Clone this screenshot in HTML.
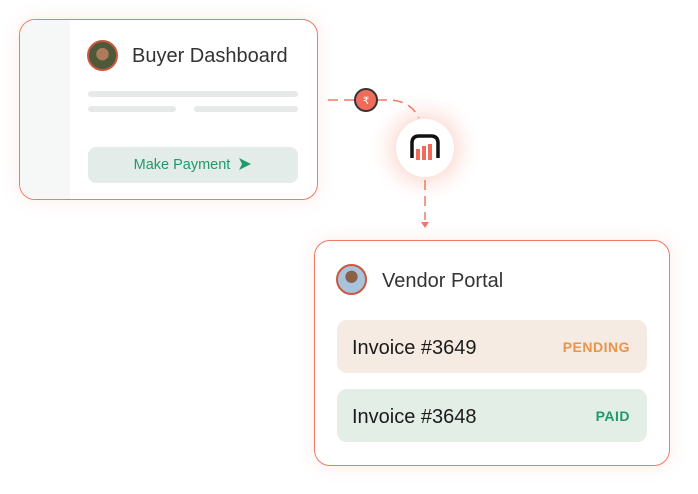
<!DOCTYPE html>
<html><head><style>
body{margin:0;width:698px;height:494px;background:#fff;position:relative;overflow:hidden;font-family:"Liberation Sans",sans-serif}
.abs{position:absolute}
.card{position:absolute;border:1.5px solid #f07a66;border-radius:16px;background:#fff;box-shadow:0 0 18px rgba(240,122,102,0.15);box-sizing:border-box;overflow:hidden}
.av{position:absolute;border-radius:50%;border:2px solid #c9583f;box-sizing:border-box}
.bar{position:absolute;background:#e6e9e8;border-radius:3px;height:6px}
.row{position:absolute;left:22px;width:310px;height:53px;border-radius:10px;font-size:20px;color:#1b1b1b}
.row span{position:absolute;top:17px}
.row b{position:absolute;right:17px;top:19px;font-size:14px;letter-spacing:0.5px}
</style></head><body>
<div class="card" style="left:19px;top:19px;width:299px;height:181px">
  <div class="abs" style="left:0;top:0;width:50px;height:181px;background:#f6f8f7"></div>
  <div class="av" style="left:67px;top:20px;width:31px;height:31px;background:radial-gradient(circle at 50% 45%,#b07a5a 0 30%,#4d5a3a 32%)"></div>
  <div class="abs" style="left:112px;top:25px;font-size:20px;color:#333">Buyer Dashboard</div>
  <div class="bar" style="left:68px;top:71px;width:210px"></div>
  <div class="bar" style="left:68px;top:86px;width:88px"></div>
  <div class="bar" style="left:174px;top:86px;width:104px"></div>
  <div class="abs" style="left:68px;top:127px;width:210px;height:36px;background:#e3ece8;border-radius:8px;color:#1f9a6e;font-size:14.5px;text-align:center;line-height:36px">Make Payment &nbsp;<svg width="14" height="14" viewBox="0 0 14 14" style="vertical-align:-2px"><path d="M1 1L13 7L1 13L4 7Z" fill="#1f9a6e"/></svg></div>
</div>
<svg class="abs" style="left:0;top:0" width="698" height="494">
  <defs><radialGradient id="g"><stop offset="0.5" stop-color="#fbd8d0" stop-opacity="0.7"/><stop offset="1" stop-color="#fff" stop-opacity="0"/></radialGradient></defs>
  <circle cx="425" cy="148" r="58" fill="url(#g)"/>
  <path d="M328 100H355" stroke="#f07a66" stroke-width="1.5" stroke-dasharray="10 6" fill="none"/>
  <path d="M377 100H388Q410 100 419 118" stroke="#f07a66" stroke-width="1.5" stroke-dasharray="10 6" fill="none"/>
  <path d="M425 180V220" stroke="#f07a66" stroke-width="1.5" stroke-dasharray="10 6" fill="none"/>
  <path d="M421 222L429 222L425 228Z" fill="#f07a66"/>
  <circle cx="366" cy="100" r="11" fill="#ef6b5a" stroke="#333" stroke-width="2"/>
  <text x="366" y="104" font-size="10" fill="#fff" text-anchor="middle" font-family="DejaVu Sans">₹</text>
  <circle cx="425" cy="148" r="29" fill="#fff"/>
  <path d="M412 158V143Q412 136 419 136H431Q438 136 438 143V158" stroke="#111" stroke-width="3.5" fill="none"/>
  <rect x="416" y="149" width="4" height="11" fill="#ef6b5a"/>
  <rect x="422" y="146" width="4" height="14" fill="#ef6b5a"/>
  <rect x="428" y="144" width="4" height="16" fill="#ef6b5a"/>
</svg>
<div class="card" style="left:314px;top:240px;width:356px;height:226px">
  <div class="av" style="left:21px;top:23px;width:31px;height:31px;background:radial-gradient(circle at 50% 40%,#8a6048 0 28%,#a8c4dc 30%)"></div>
  <div class="abs" style="left:67px;top:29px;font-size:20px;color:#333">Vendor Portal</div>
  <div class="row" style="top:79px;background:#f5ebe2"><span style="left:15px">Invoice #3649</span><b style="color:#e8944a">PENDING</b></div>
  <div class="row" style="top:148px;background:#e3eee6"><span style="left:15px">Invoice #3648</span><b style="color:#1f9a6e">PAID</b></div>
</div>
</body></html>
